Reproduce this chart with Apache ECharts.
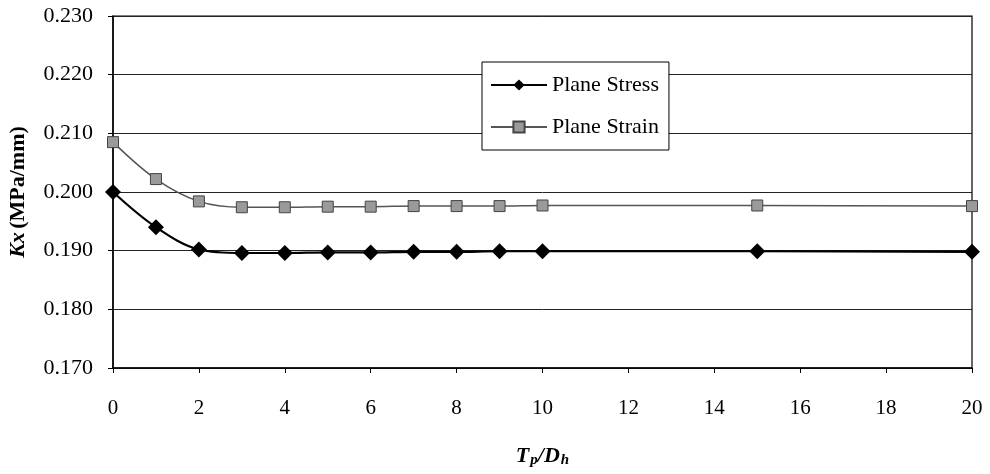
<!DOCTYPE html>
<html>
<head>
<meta charset="utf-8">
<script src="https://cdn.jsdelivr.net/npm/echarts@6/dist/echarts.min.js"></script>
<style>
  html, body { margin: 0; padding: 0; background: #fff; }
  #chart { width: 990px; height: 474px; }
</style>
</head>
<body>
<div id="chart"></div>
<script>
// Stiffness Kx versus plate thickness ratio Tp/Dh
const ratio = [0, 1, 2, 3, 4, 5, 6, 7, 8, 9, 10, 15, 20];
const planeStress = [0.2000, 0.1940, 0.1902, 0.1896, 0.1896, 0.1897, 0.1897, 0.1898, 0.1898, 0.1899, 0.1899, 0.1899, 0.1898];
const planeStrain = [0.2085, 0.2022, 0.1984, 0.1974, 0.1974, 0.1975, 0.1975, 0.1976, 0.1976, 0.1976, 0.1977, 0.1977, 0.1976];
const seriesNames = ['Plane Stress', 'Plane Strain'];

const serif = '"Liberation Serif", "DejaVu Serif", serif';

const chart = echarts.init(document.getElementById('chart'));
chart.setOption({
  animation: false,
  backgroundColor: '#fff',
  grid: {
    left: 113, right: 18, top: 16, bottom: 106,
    outerBoundsMode: 'none',
    containLabel: false,
    show: true, borderColor: '#000', borderWidth: 1.2, backgroundColor: 'transparent'
  },
  legend: {
    orient: 'vertical',
    left: 482, top: 62,
    padding: [12, 10, 12, 8],
    itemGap: 20,
    itemWidth: 56, itemHeight: 14,
    backgroundColor: '#fff',
    borderColor: '#000', borderWidth: 1,
    textStyle: { fontFamily: serif, fontSize: 22, color: '#000' },
    data: seriesNames
  },
  xAxis: {
    type: 'value',
    min: 0, max: 20, interval: 2,
    name: '{i|T}{s|p}{i|/D}{s|h}',
    nameLocation: 'middle',
    nameGap: 76,
    nameTextStyle: {
      rich: {
        i: { fontFamily: serif, fontSize: 22, fontWeight: 'bold', fontStyle: 'italic', color: '#000' },
        s: { fontFamily: serif, fontSize: 15, fontWeight: 'bold', fontStyle: 'italic', color: '#000', verticalAlign: 'bottom', padding: [9, 0, 0, 1] }
      }
    },
    axisLine: { show: true, lineStyle: { color: '#000', width: 1.5 } },
    axisTick: { show: true, length: 5, lineStyle: { color: '#000' } },
    axisLabel: { margin: 30, fontFamily: serif, fontSize: 21, color: '#000' },
    splitLine: { show: false }
  },
  yAxis: {
    type: 'value',
    min: 0.17, max: 0.23, interval: 0.01,
    name: '{i|Kx} {b|(MPa/mm)}',
    nameLocation: 'middle',
    nameGap: 84,
    nameRotate: 90,
    nameTextStyle: {
      rich: {
        i: { fontFamily: serif, fontSize: 22, fontWeight: 'bold', fontStyle: 'italic', color: '#000' },
        b: { fontFamily: serif, fontSize: 22, fontWeight: 'bold', color: '#000' }
      }
    },
    axisLine: { show: true, lineStyle: { color: '#000', width: 1.5 } },
    axisTick: { show: true, length: 5, lineStyle: { color: '#000' } },
    axisLabel: {
      margin: 20, fontFamily: serif, fontSize: 22, color: '#000',
      formatter: v => v.toFixed(3)
    },
    splitLine: { show: true, lineStyle: { color: '#222', width: 1 } }
  },
  series: [
    {
      name: seriesNames[0],
      type: 'line',
      smooth: 0.35,
      data: ratio.map((x, i) => [x, planeStress[i]]),
      symbol: 'diamond',
      symbolSize: 16,
      itemStyle: { color: '#000' },
      lineStyle: { color: '#000', width: 2.2 },
      z: 3
    },
    {
      name: seriesNames[1],
      type: 'line',
      smooth: 0.35,
      data: ratio.map((x, i) => [x, planeStrain[i]]),
      symbol: 'rect',
      symbolSize: 11,
      itemStyle: { color: '#9a9a9a', borderColor: '#444', borderWidth: 1 },
      lineStyle: { color: '#555', width: 1.5 },
      z: 2
    }
  ]
});
</script>
</body>
</html>
